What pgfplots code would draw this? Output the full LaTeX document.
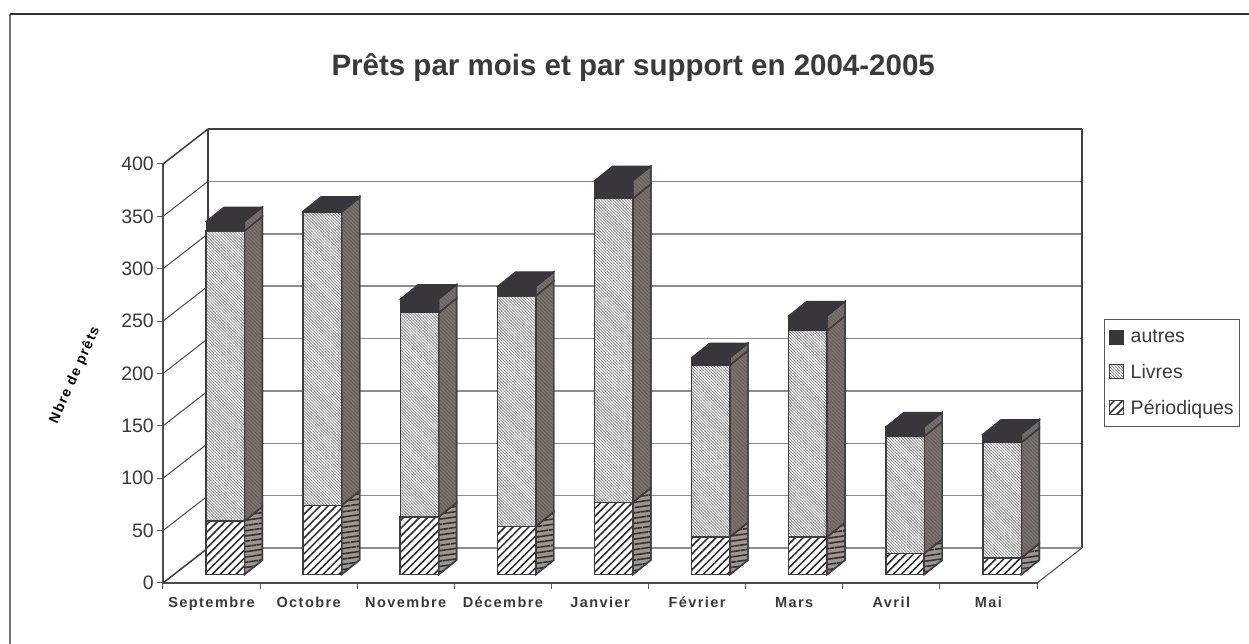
\documentclass[border=0pt]{standalone}
\usepackage{pgfplots}
\usepackage{pgfplotstable}
\usepackage{fontspec}
\setmainfont{Liberation Sans}
\newfontfamily\spaced[LetterSpace=10]{Liberation Sans}
\pgfplotsset{compat=1.18}
\usetikzlibrary{patterns.meta}
\definecolor{txt}{HTML}{3A3A3C}
\definecolor{edge}{HTML}{3E3E42}
\definecolor{dark}{HTML}{38363C}
\definecolor{brownc}{HTML}{7E706C}
\definecolor{grid}{HTML}{8C8C8C}
\pgfplotstableread{
P L A
51 277 9
66 280 1
55 195 13
46 220 9
69 290 17
36 164 7
36 197 14
20 112 9
16 110 8
}\loans
\pgfplotsset{
  frontL/.style={draw=edge,line width=1.4pt,preaction={fill=white},pattern={Lines[angle=-45,distance=2.1pt,line width=.8pt]},pattern color=black!48},
  frontP/.style={draw=edge,line width=1.6pt,preaction={fill=white},pattern={Lines[angle=45,distance=5.6pt,line width=1.5pt]},pattern color=black!85},
  sideL/.style={draw=edge,line width=1.4pt,preaction={fill=brownc},pattern={Lines[angle=-45,distance=2.6pt,line width=.8pt]},pattern color=black!62},
  sideP/.style={draw=edge,line width=1.4pt,preaction={fill=brownc!75!white},pattern={Lines[angle=8,distance=5.2pt,line width=1.6pt]},pattern color=black!80},
  darkf/.style={draw=dark,line width=1pt,fill=dark},
  wall/.style={draw=edge,line width=1.5pt,forget plot},
  gridl/.style={draw=grid,line width=1.5pt,forget plot},
  sidel/.style={draw=black!70,line width=1pt,forget plot},
}
\newcommand\face[9]{\edef\tmp{\noexpand\addplot[#1,forget plot] coordinates {(#2,#3) (#4,#5) (#6,#7) (#8,#9)} -- cycle;}\tmp}
\newcommand\seg[5]{\edef\tmp{\noexpand\addplot[#1] coordinates {(#2,#3) (#4,#5)};}\tmp}
\begin{document}
\begin{tikzpicture}
\path[use as bounding box] (-163pt,-61pt) rectangle (1086pt,583pt);
\draw[draw=black!55,line width=2.4pt] (-153pt,-61pt) -- (-153pt,569pt);
\draw[draw=black!80,line width=1.6pt] (-153pt,569pt) -- (1086pt,569pt);
\begin{axis}[
  scale only axis, width=874pt, height=419pt,
  xmin=0, xmax=9, ymin=0, ymax=400, clip=false,
  axis x line=bottom, axis y line=left,
  axis line style={-,draw=black!70,line width=1.3pt},
  xtick={0,...,9}, x tick label as interval,
  xticklabels={Septembre,Octobre,Novembre,Décembre,Janvier,Février,Mars,Avril,Mai},
  ytick={0,50,...,400},
  tick style={draw=black!65,line width=1pt}, major tick length=6pt,
  tick align=outside,
  /pgf/number format/assume math mode=true,
  yticklabel style={font=\fontsize{19.5}{23}\selectfont,text=txt,inner sep=3pt},
  xticklabel style={font=\spaced\bfseries\fontsize{14.5}{16}\selectfont,text=txt,inner sep=4pt,text height=11pt,text depth=3pt,yshift=-3pt},
  title={Prêts par mois et par support en 2004-2005},
  title style={at={(axis description cs:0.538,1.217)},anchor=center,font=\bfseries\fontsize{29.5}{34}\selectfont,text=txt},
  ylabel={\spaced\bfseries Nbre de prêts},
  ylabel style={at={(axis description cs:-0.1007,0.496)},anchor=center,rotate=-24,font=\fontsize{14}{16}\selectfont,text=black},
  legend style={at={(axis description cs:1.0767,0.630)},anchor=north west,draw=black!65,line width=1pt,
    font=\fontsize{19.5}{23}\selectfont,text=txt,row sep=16pt,inner xsep=4pt,inner ysep=8.5pt,
    legend cell align=left},
  legend image code/.code={\draw[#1] (1pt,-7pt) rectangle (15pt,7pt);\path (20pt,0pt);},
]
\addlegendimage{draw=dark,fill=dark,line width=.6pt}
\addlegendentry{autres}
\addlegendimage{draw=edge,line width=1pt,pattern={Lines[angle=-45,distance=2.1pt,line width=.8pt]},pattern color=black!48}
\addlegendentry{Livres}
\addlegendimage{draw=edge,line width=1.2pt,pattern={Lines[angle=45,distance=5.6pt,line width=1.5pt]},pattern color=black!85}
\addlegendentry{Périodiques}
% walls
\pgfplotsinvokeforeach{50,100,...,350}{
  \pgfmathsetmacro\yb{#1+33.4}
  \seg{gridl}{0.4634}{\yb}{9.4634}{\yb}
  \seg{sidel}{0}{#1}{0.4634}{\yb}
}
\seg{wall}{0}{0}{0.4634}{33.4}
\seg{wall}{0}{400}{0.4634}{433.4}
\seg{wall}{0.4634}{33.4}{0.4634}{433.4}
\seg{wall}{0.4634}{433.4}{9.4634}{433.4}
\seg{wall}{9.4634}{33.4}{9.4634}{433.4}
\seg{gridl}{0.4634}{33.4}{9.4634}{33.4}
\seg{sidel}{9}{0}{9.4634}{33.4}
% bars
\pgfplotsinvokeforeach{0,...,8}{
  \pgfplotstablegetelem{#1}{P}\of\loans\let\vP\pgfplotsretval
  \pgfplotstablegetelem{#1}{L}\of\loans\let\vL\pgfplotsretval
  \pgfplotstablegetelem{#1}{A}\of\loans\let\vA\pgfplotsretval
  \pgfmathsetmacro\xa{#1+0.443}
  \pgfmathsetmacro\xb{#1+0.839}
  \pgfmathsetmacro\xc{#1+1.024}
  \pgfmathsetmacro\ya{8.1}
  \pgfmathsetmacro\yb{8.1+\vP}
  \pgfmathsetmacro\yc{8.1+\vP+\vL}
  \pgfmathsetmacro\yd{8.1+\vP+\vL+\vA}
  \pgfmathsetmacro\ye{\ya+13.8}
  \pgfmathsetmacro\yf{\yb+13.8}
  \pgfmathsetmacro\yg{\yc+13.8}
  \pgfmathsetmacro\yh{\yd+13.8}
  \pgfmathsetmacro\xd{#1+0.628}
  \face{sideP}{\xb}{\ya}{\xc}{\ye}{\xc}{\yf}{\xb}{\yb}
  \face{sideL}{\xb}{\yb}{\xc}{\yf}{\xc}{\yg}{\xb}{\yc}
  \face{sideL}{\xb}{\yc}{\xc}{\yg}{\xc}{\yh}{\xb}{\yd}
  \face{frontP}{\xa}{\ya}{\xb}{\ya}{\xb}{\yb}{\xa}{\yb}
  \face{frontL}{\xa}{\yb}{\xb}{\yb}{\xb}{\yc}{\xa}{\yc}
  \face{darkf}{\xa}{\yc}{\xb}{\yc}{\xb}{\yd}{\xa}{\yd}
  \face{darkf}{\xa}{\yd}{\xb}{\yd}{\xc}{\yh}{\xd}{\yh}
}
\end{axis}
\end{tikzpicture}
\end{document}
